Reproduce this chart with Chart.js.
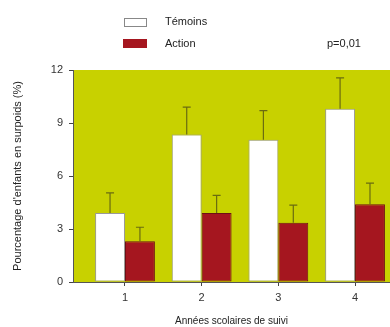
<!DOCTYPE html>
<html>
<head>
<meta charset="utf-8">
<script src="https://cdn.jsdelivr.net/npm/chart.js@4/dist/chart.umd.min.js"></script>
<style>
  html, body { margin: 0; padding: 0; background: #fff; }
  #wrap { width: 390px; height: 327px; position: relative; }
</style>
</head>
<body>
<div id="wrap"><canvas id="c" width="390" height="327"></canvas></div>
<script>
// years of follow-up
const years = [1, 2, 3, 4]
const temoins = [3.9, 8.35, 8.05, 9.8]
const temoinsErr = [1.15, 1.55, 1.65, 1.75]
const action = [2.3, 3.9, 3.35, 4.4]
const actionErr = [0.8, 1.0, 1.0, 1.2]
const yTicks = [0, 3, 6, 9, 12]

const YELLOW = '#c8d100'
const RED = '#a5161f'
const FONT = "'Liberation Sans', Arial, sans-serif"

const bgPlugin = {
  id: 'bg',
  beforeDraw(chart) {
    const {ctx, chartArea: a} = chart
    ctx.save()
    ctx.fillStyle = YELLOW
    ctx.fillRect(a.left, a.top, a.right - a.left, a.bottom - a.top)
    ctx.restore()
  }
}

const errPlugin = {
  id: 'err',
  afterDatasetsDraw(chart) {
    const ctx = chart.ctx
    const y = chart.scales.y
    ctx.save()
    ctx.strokeStyle = '#6a6c10'
    ctx.lineWidth = 1.2
    chart.data.datasets.forEach((ds, i) => {
      chart.getDatasetMeta(i).data.forEach((bar, j) => {
        const top = y.getPixelForValue(ds.data[j].y + ds.err[j])
        ctx.beginPath()
        ctx.moveTo(bar.x, bar.y)
        ctx.lineTo(bar.x, top)
        ctx.moveTo(bar.x - 4, top)
        ctx.lineTo(bar.x + 4, top)
        ctx.stroke()
      })
    })
    ctx.restore()
  }
}

const legendPlugin = {
  id: 'legendBox',
  afterDraw(chart) {
    const ctx = chart.ctx
    ctx.save()
    ctx.fillStyle = '#fff'
    ctx.strokeStyle = '#888'
    ctx.lineWidth = 1
    ctx.fillRect(124, 18, 22, 8)
    ctx.strokeRect(124.5, 18.5, 22, 8)
    ctx.fillStyle = RED
    ctx.fillRect(123, 39, 24, 9)
    ctx.fillStyle = '#222'
    ctx.font = '11px ' + FONT
    ctx.textBaseline = 'middle'
    ctx.fillText('Témoins', 165, 22)
    ctx.fillText('Action', 165, 44)
    ctx.fillText('p=0,01', 327, 44)
    ctx.restore()
  }
}

new Chart(document.getElementById('c'), {
  type: 'bar',
  data: {
    datasets: [
      {
        label: 'Témoins',
        data: years.map((x, i) => ({x, y: temoins[i]})),
        err: temoinsErr,
        backgroundColor: '#ffffff',
        borderColor: '#999999',
        borderWidth: 1,
        borderSkipped: false
      },
      {
        label: 'Action',
        data: years.map((x, i) => ({x, y: action[i]})),
        err: actionErr,
        backgroundColor: RED,
        borderColor: '#6e1016',
        borderWidth: 1,
        borderSkipped: false
      }
    ]
  },
  options: {
    responsive: false,
    animation: false,
    categoryPercentage: 0.78,
    barPercentage: 1.0,
    layout: { padding: { top: 70, right: 0, left: 0, bottom: 0 } },
    plugins: {
      legend: { display: false },
      tooltip: { enabled: false }
    },
    scales: {
      x: {
        type: 'linear',
        offset: false,
        min: 0.322,
        max: 4.456,
        afterBuildTicks(scale) { scale.ticks = years.map(v => ({value: v})) },
        afterFit(scale) { scale.height = 45 },
        grid: { drawOnChartArea: false, tickLength: 4, color: '#444', offset: false },
        border: { color: '#555', width: 1 },
        ticks: { color: '#333', font: { family: FONT, size: 11 }, padding: 5 },
        title: {
          display: true,
          text: 'Années scolaires de suivi',
          color: '#222',
          font: { family: FONT, size: 10 },
          padding: { top: 3, bottom: 0 }
        }
      },
      y: {
        min: 0,
        max: 12,
        afterBuildTicks(scale) { scale.ticks = yTicks.map(v => ({value: v})) },
        afterFit(scale) { scale.width = 73 },
        grid: { drawOnChartArea: false, tickLength: 4, color: '#444' },
        border: { color: '#555', width: 1 },
        ticks: { color: '#333', font: { family: FONT, size: 11 }, padding: 6 },
        title: {
          display: true,
          text: "Pourcentage d'enfants en surpoids (%)",
          color: '#222',
          font: { family: FONT, size: 11 },
          padding: { top: 11, bottom: 0 }
        }
      }
    }
  },
  plugins: [bgPlugin, errPlugin, legendPlugin]
})
</script>
</body>
</html>
